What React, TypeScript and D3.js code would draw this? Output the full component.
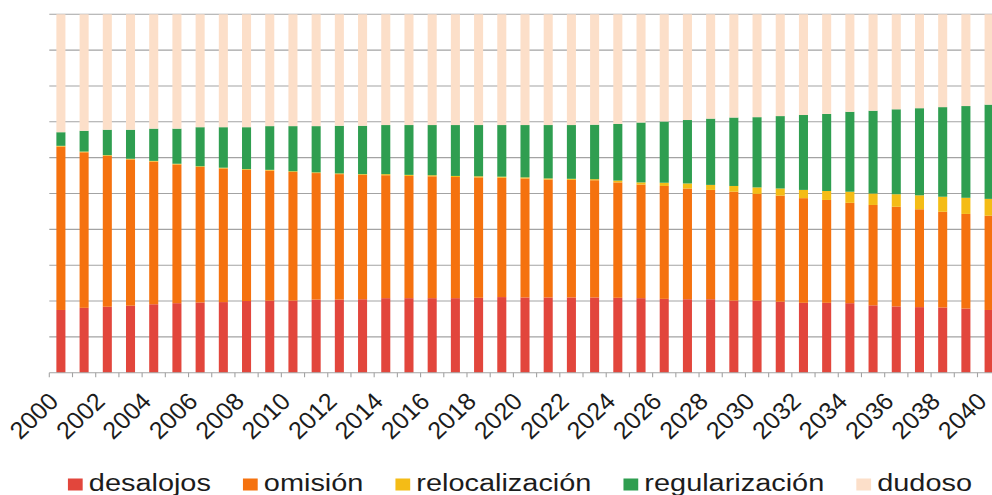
import { useEffect, useRef } from "react";
import * as d3 from "d3";

// Years shown on the x axis
const years = d3.range(2000, 2041);

// Shares per year (percent)
const desalojos = [
  17.5, 18.1, 18.4, 18.7, 19.1, 19.4, 19.6, 19.7, 20.0, 20.1, 20.1, 20.4, 20.4, 20.5,
  20.8, 20.8, 20.8, 20.8, 20.9, 21.1, 21.0, 21.0, 21.0, 21.0, 20.9, 20.8, 20.6, 20.5,
  20.5, 20.1, 20.1, 19.8, 19.5, 19.5, 19.4, 18.8, 18.5, 18.3, 18.2, 17.9, 17.5,
];
const omision = [
  45.6, 43.4, 42.1, 40.8, 39.8, 38.7, 37.8, 37.3, 36.6, 36.3, 35.9, 35.3, 35.0, 34.7,
  34.3, 34.1, 34.0, 33.8, 33.6, 33.3, 33.2, 32.9, 32.8, 32.7, 32.2, 31.7, 31.5, 30.9,
  30.5, 30.4, 29.8, 29.6, 29.2, 28.7, 28.0, 28.0, 27.8, 27.3, 26.7, 26.4, 26.3,
];
const relocalizacion = [
  0.2, 0.2, 0.2, 0.2, 0.2, 0.2, 0.2, 0.2, 0.2, 0.2, 0.2, 0.2, 0.2, 0.2,
  0.3, 0.3, 0.3, 0.3, 0.3, 0.3, 0.3, 0.3, 0.3, 0.3, 0.5, 0.6, 0.9, 1.4,
  1.4, 1.6, 1.8, 2.0, 2.3, 2.5, 3.1, 3.2, 3.5, 3.9, 4.2, 4.5, 4.7,
];
const regularizacion = [
  3.8, 5.8, 7.1, 8.1, 9.0, 9.8, 10.9, 11.3, 11.7, 12.2, 12.6, 12.9, 13.3, 13.5,
  13.7, 13.9, 14.0, 14.2, 14.3, 14.4, 14.6, 14.9, 15.0, 15.2, 15.8, 16.7, 17.1, 17.7,
  18.5, 19.1, 19.6, 20.2, 20.9, 21.5, 22.3, 23.1, 23.7, 24.3, 25.0, 25.6, 26.3,
];
const dudoso = [
  32.9, 32.5, 32.2, 32.2, 31.9, 31.9, 31.5, 31.5, 31.5, 31.2, 31.2, 31.2, 31.1, 31.1,
  30.9, 30.9, 30.9, 30.9, 30.9, 30.9, 30.9, 30.9, 30.9, 30.8, 30.6, 30.2, 29.9, 29.5,
  29.1, 28.8, 28.7, 28.4, 28.1, 27.8, 27.2, 26.9, 26.5, 26.2, 25.9, 25.6, 25.2,
];

const seriesNames = ["desalojos", "omisión", "relocalización", "regularización", "dudoso"];
const seriesColors = ["#e2463c", "#f5720f", "#f4bc16", "#2f9e50", "#fcdfc9"];
const yTicks = d3.range(0, 101, 10);

const WIDTH = 992;
const HEIGHT = 495;
const FONT = "'Liberation Sans', Arial, sans-serif";
const STRETCH = 1.23; // the source picture is stretched horizontally
const LABEL_STRETCH = 1.05;

function App() {
  const svgRef = useRef<SVGSVGElement | null>(null);

  useEffect(() => {
    if (!svgRef.current) return;
    const svg = d3.select(svgRef.current);
    svg.selectAll("*").remove();

    const MARGIN = { top: 14.3, left: 49.3, bottom: 122.3, right: -8.7 };

    const rows = years.map((year, i) => ({
      year: String(year),
      desalojos: desalojos[i],
      "omisión": omision[i],
      "relocalización": relocalizacion[i],
      "regularización": regularizacion[i],
      dudoso: dudoso[i],
    }));

    const x = d3
      .scaleBand()
      .domain(rows.map((r) => r.year))
      .range([MARGIN.left, WIDTH - MARGIN.right])
      .paddingInner(0.61)
      .paddingOuter(0.305);

    const y = d3
      .scaleLinear()
      .domain([0, 100])
      .range([HEIGHT - MARGIN.bottom, MARGIN.top]);

    const color = d3.scaleOrdinal<string, string>().domain(seriesNames).range(seriesColors);

    // Gridlines
    svg
      .append("g")
      .selectAll("line")
      .data(yTicks.filter((t) => t > 0))
      .join("line")
      .attr("x1", MARGIN.left)
      .attr("x2", WIDTH)
      .attr("y1", (d) => y(d))
      .attr("y2", (d) => y(d))
      .attr("stroke", "#a3a3a3")
      .attr("stroke-width", 1.1);

    // Stacked bars
    const stacked = d3.stack<any>().keys(seriesNames)(rows);
    svg
      .append("g")
      .selectAll("g")
      .data(stacked)
      .join("g")
      .attr("fill", (s) => color(s.key))
      .selectAll("rect")
      .data((s) => s)
      .join("rect")
      .attr("x", (d) => x(d.data.year) || 0)
      .attr("width", x.bandwidth())
      .attr("y", (d) => y(d[1]))
      .attr("height", (d) => y(d[0]) - y(d[1]));

    // X axis line and ticks at the band boundaries
    const axis = svg.append("g").attr("stroke", "#a3a3a3").attr("stroke-width", 1.1);
    axis
      .append("line")
      .attr("x1", MARGIN.left)
      .attr("x2", WIDTH)
      .attr("y1", y(0))
      .attr("y2", y(0));
    axis
      .selectAll("line.tick")
      .data(d3.range(0, years.length + 1))
      .join("line")
      .attr("class", "tick")
      .attr("x1", (i) => x.range()[0] + i * x.step())
      .attr("x2", (i) => x.range()[0] + i * x.step())
      .attr("y1", y(0))
      .attr("y2", y(0) + 4.5);

    // Rotated year labels, every second year
    svg
      .append("g")
      .selectAll("text")
      .data(rows.filter((_, i) => i % 2 === 0))
      .join("text")
      .attr(
        "transform",
        (d) =>
          `translate(${(x(d.year) || 0) + x.bandwidth() / 2 - 1},${y(0) + 30}) scale(${LABEL_STRETCH},1) rotate(-45)`
      )
      .attr("text-anchor", "end")
      .attr("font-family", FONT)
      .attr("font-size", 24)
      .attr("fill", "#1c1c1c")
      .text((d) => d.year);

    // Legend, laid out from the measured text widths
    const legend = svg.append("g");
    const items = legend
      .selectAll("g")
      .data(seriesNames)
      .join("g");
    items
      .append("rect")
      .attr("y", -12.5)
      .attr("width", 12)
      .attr("height", 12)
      .attr("fill", (d) => color(d));
    items
      .append("text")
      .attr("x", 17)
      .attr("font-family", FONT)
      .attr("font-size", 23.5)
      .attr("fill", "#1c1c1c")
      .text((d) => d);

    let offset = 0;
    items.each(function () {
      const g = d3.select(this);
      const w = (g.select("text").node() as SVGTextElement).getComputedTextLength();
      g.attr("transform", `translate(${offset},0)`);
      offset += 17 + w + 26;
    });
    const total = offset - 26;
    const centre = 520;
    legend.attr(
      "transform",
      `translate(${centre - (total * STRETCH) / 2},491) scale(${STRETCH},1)`
    );
  }, []);

  return (
    <svg
      ref={svgRef}
      width={WIDTH}
      height={HEIGHT}
      style={{ position: "absolute", left: 0, top: 0, background: "#fff" }}
      role="img"
      aria-label="Stacked bar chart by year"
    />
  );
}

export default App;
